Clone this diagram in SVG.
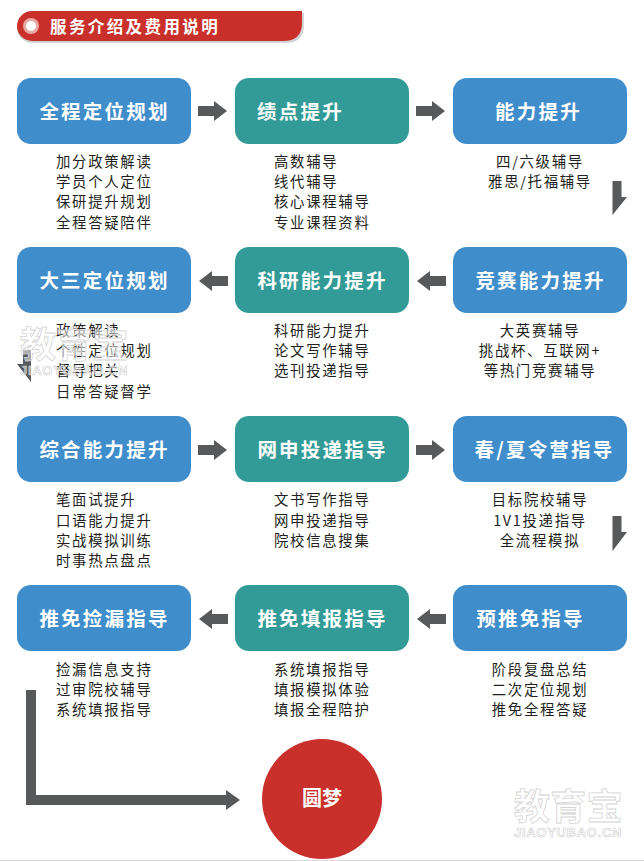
<svg xmlns="http://www.w3.org/2000/svg" width="644" height="861" viewBox="0 0 644 861">
<style>
text{font-family:"Noto Sans CJK SC","Noto Sans",sans-serif}
.b{fill:#3f8dca}.g{fill:#339b97}
.t{fill:#fff;font-size:19.5px;font-weight:700;letter-spacing:2.2px;text-anchor:middle}
.d{fill:#231f20;font-size:14.4px;letter-spacing:1.7px;text-anchor:middle;transform:translateY(-.8px)}
.l{text-anchor:start}
.a{fill:#58595b}
.w1{fill:#fff;stroke:#d4d4d4;stroke-width:.8px;font-size:36px;font-weight:700;letter-spacing:.3px}
.w2{fill:#fff;stroke:#cfcfcf;stroke-width:.6px;font-size:13px;font-family:"Liberation Sans",sans-serif;font-weight:700;letter-spacing:.7px}
</style>
<defs>
<rect id="box" width="174" height="66" rx="14"/>
<polygon id="ar" class="a" points="198,106 214,106 214,101 227,111 214,121 214,116 198,116"/>
<polygon id="al" class="a" points="446,106 430,106 430,101 417,111 430,121 430,116 446,116"/>
</defs>
<rect width="644" height="861" fill="#fff"/>
<g id="header">
<path d="M32,13H304V25Q304,43 285,43H32A15,15 0 0 1 32,13Z" fill="#d1d3d4"/>
<path d="M32,11H302V23Q302,41 283,41H32A15,15 0 0 1 32,11Z" fill="#c9302c"/>
<circle cx="31" cy="26" r="8" fill="#e8a9a5"/><circle cx="31" cy="26" r="5" fill="#fff"/>
<text x="50" y="32.500" fill="#fff" font-size="16.500" font-weight="700" letter-spacing="2.400">服务介绍及费用说明</text>
</g>
<g id="connectors">
<use href="#ar"/><use href="#ar" x="218"/>
<polygon class="a" points="612.500,181 621.500,181 621.500,197 627,197 612.500,215"/>
<use href="#al" y="170"/><use href="#al" x="-218" y="170"/>
<polygon class="a" points="31,350 23,350 23,364 17,364 31,382"/>
<use href="#ar" y="339"/><use href="#ar" x="218" y="339"/>
<polygon class="a" points="612.500,516 621.500,516 621.500,532 627,532 612.500,551"/>
<use href="#al" y="508"/><use href="#al" x="-218" y="508"/>
<polygon class="a" points="26,690 36,690 36,795 226,795 226,790 240,800 226,810 226,805 26,805"/>
</g>
<g id="n1"><use href="#box" class="b" x="17" y="78"/><text class="t" x="104.500" y="118.500">全程定位规划</text>
<text class="d l"><tspan x="56" y="167.500">加分政策解读</tspan><tspan x="56" y="187.500">学员个人定位</tspan><tspan x="56" y="207.500">保研提升规划</tspan><tspan x="56" y="228.500">全程答疑陪伴</tspan></text></g>
<g id="n2"><use href="#box" class="g" x="235" y="78"/><text class="t" x="300.500" y="118.500">绩点提升</text>
<text class="d l"><tspan x="274" y="167.500">高数辅导</tspan><tspan x="274" y="187.500">线代辅导</tspan><tspan x="274" y="207.500">核心课程辅导</tspan><tspan x="274" y="228.500">专业课程资料</tspan></text></g>
<g id="n3"><use href="#box" class="b" x="453" y="78"/><text class="t" x="538.500" y="118.500">能力提升</text>
<text class="d"><tspan x="540" y="167.500">四/六级辅导</tspan><tspan x="540" y="187.500">雅思/托福辅导</tspan></text></g>
<g id="n4"><use href="#box" class="b" x="17" y="247"/><text class="t" x="104.500" y="287.500">大三定位规划</text>
<text class="d l"><tspan x="56" y="336.500">政策解读</tspan><tspan x="56" y="356.500">个性定位规划</tspan><tspan x="56" y="376.500">督导把关</tspan><tspan x="56" y="397.500">日常答疑督学</tspan></text></g>
<g id="n5"><use href="#box" class="g" x="235" y="247"/><text class="t" x="322.500" y="287.500">科研能力提升</text>
<text class="d l"><tspan x="274" y="336.500">科研能力提升</tspan><tspan x="274" y="356.500">论文写作辅导</tspan><tspan x="274" y="376.500">选刊投递指导</tspan></text></g>
<g id="n6"><use href="#box" class="b" x="453" y="247"/><text class="t" x="540.500" y="287.500">竞赛能力提升</text>
<text class="d"><tspan x="540" y="336.500">大英赛辅导</tspan><tspan x="540" y="356.500">挑战杯、互联网+</tspan><tspan x="540" y="376.500">等热门竞赛辅导</tspan></text></g>
<g id="n7"><use href="#box" class="b" x="17" y="416"/><text class="t" x="104.500" y="456.500">综合能力提升</text>
<text class="d l"><tspan x="56" y="505.500">笔面试提升</tspan><tspan x="56" y="526.500">口语能力提升</tspan><tspan x="56" y="546.500">实战模拟训练</tspan><tspan x="56" y="566.500">时事热点盘点</tspan></text></g>
<g id="n8"><use href="#box" class="g" x="235" y="416"/><text class="t" x="322.500" y="456.500">网申投递指导</text>
<text class="d l"><tspan x="274" y="505.500">文书写作指导</tspan><tspan x="274" y="526.500">网申投递指导</tspan><tspan x="274" y="546.500">院校信息搜集</tspan></text></g>
<g id="n9"><use href="#box" class="b" x="453" y="416"/><text class="t" x="544.500" y="456.500">春/夏令营指导</text>
<text class="d"><tspan x="540" y="505.500">目标院校辅导</tspan><tspan x="540" y="526.500">1V1投递指导</tspan><tspan x="540" y="546.500">全流程模拟</tspan></text></g>
<g id="n10"><use href="#box" class="b" x="17" y="585"/><text class="t" x="104.500" y="625.500">推免捡漏指导</text>
<text class="d l"><tspan x="56" y="675.500">捡漏信息支持</tspan><tspan x="56" y="695.500">过审院校辅导</tspan><tspan x="56" y="715.500">系统填报指导</tspan></text></g>
<g id="n11"><use href="#box" class="g" x="235" y="585"/><text class="t" x="322.500" y="625.500">推免填报指导</text>
<text class="d l"><tspan x="274" y="675.500">系统填报指导</tspan><tspan x="274" y="695.500">填报模拟体验</tspan><tspan x="274" y="715.500">填报全程陪护</tspan></text></g>
<g id="n12"><use href="#box" class="b" x="453" y="585"/><text class="t" x="530.500" y="625.500">预推免指导</text>
<text class="d"><tspan x="540" y="675.500">阶段复盘总结</tspan><tspan x="540" y="695.500">二次定位规划</tspan><tspan x="540" y="715.500">推免全程答疑</tspan></text></g>
<g id="n13"><circle cx="322" cy="799" r="60" fill="#c9302c"/><text x="322" y="806" fill="#fff" font-size="20" font-weight="700" text-anchor="middle">圆梦</text></g>
<g id="watermarks">
<text class="w1" x="514" y="820">教育宝</text><text class="w2" x="514" y="837">JIAOYUBAO.CN</text>
<text class="w1" x="20" y="358" fill-opacity=".5">教育宝</text><text class="w2" x="20" y="375" fill-opacity=".5">JIAOYUBAO.CN</text>
</g>
<rect y="860" width="644" height="1" fill="#d9d9d9"/>
</svg>
